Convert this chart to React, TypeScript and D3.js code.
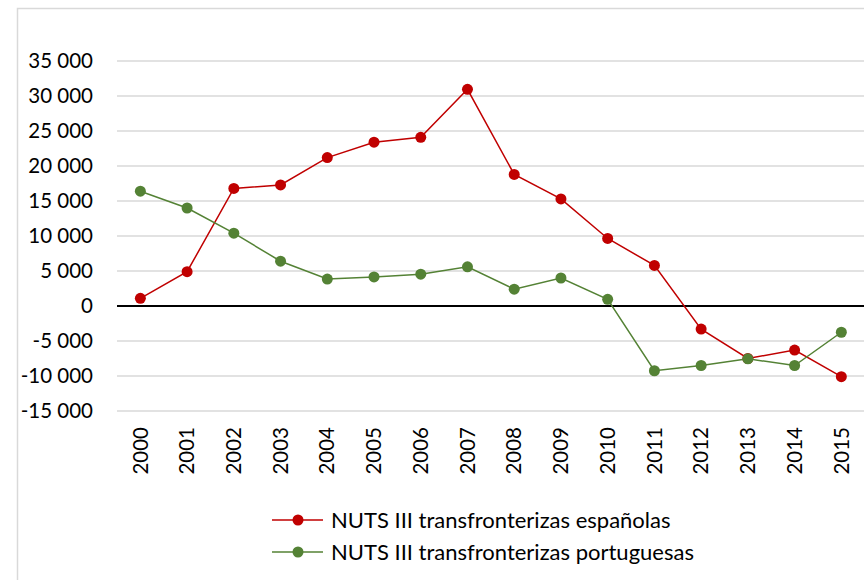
import * as d3 from "d3";
import { useEffect, useRef } from "react";

const years = ["2000", "2001", "2002", "2003", "2004", "2005", "2006", "2007", "2008", "2009", "2010", "2011", "2012", "2013", "2014", "2015"];
const espanolas = [1100, 4900, 16800, 17300, 21200, 23400, 24100, 30950, 18800, 15300, 9650, 5800, -3300, -7500, -6300, -10100];
const portuguesas = [16400, 14000, 10400, 6400, 3850, 4150, 4550, 5600, 2400, 4000, 950, -9250, -8500, -7550, -8500, -3750];
const yTicks = [-15000, -10000, -5000, 0, 5000, 10000, 15000, 20000, 25000, 30000, 35000];
const seriesNames = ["NUTS III transfronterizas españolas", "NUTS III transfronterizas portuguesas"];

const FONT = "Lato, 'Open Sans', sans-serif";

function App() {
  const ref = useRef<SVGSVGElement>(null);

  useEffect(() => {
    const svg = d3.select(ref.current);
    svg.selectAll("*").remove();

    const x = d3.scaleBand().domain(years).range([117, 864.7]).padding(0);
    const y = d3.scaleLinear().domain([-15000, 35000]).range([411, 61]);
    const cx = (d: string) => (x(d) as number) + x.bandwidth() / 2;
    const fmt = (v: number) => (v < 0 ? "-" : "") + d3.format(",")(Math.abs(v)).replace(/,/g, " ");

    // frame
    svg.append("rect").attr("x", 17.5).attr("y", 8.5).attr("width", 900).attr("height", 620)
      .attr("fill", "white").attr("stroke", "#d9d9d9").attr("stroke-width", 1.5);

    // grid
    svg.append("g").selectAll("line").data(yTicks.filter(t => t !== 0)).join("line")
      .attr("x1", 117).attr("x2", 864).attr("y1", d => y(d)).attr("y2", d => y(d))
      .attr("stroke", "#d9d9d9").attr("stroke-width", 1.5);

    svg.append("line").attr("x1", 117).attr("x2", 864).attr("y1", y(0)).attr("y2", y(0))
      .attr("stroke", "black").attr("stroke-width", 2);

    // y labels
    svg.append("g").selectAll("text").data(yTicks).join("text")
      .attr("x", 93).attr("y", d => y(d)).attr("dy", "0.35em").attr("text-anchor", "end")
      .attr("font-family", FONT).attr("font-size", 20.5).attr("fill", "#000")
      .text(d => fmt(d));

    // x labels
    svg.append("g").selectAll("text").data(years).join("text")
      .attr("transform", d => `translate(${cx(d)},427) rotate(-90)`)
      .attr("dy", "0.35em").attr("text-anchor", "end")
      .attr("font-family", FONT).attr("font-size", 20.5).attr("fill", "#000")
      .text(d => d);

    const series = [
      { name: seriesNames[0], values: espanolas, color: "#c00000" },
      { name: seriesNames[1], values: portuguesas, color: "#548235" },
    ];

    const line = d3.line<number>().x((_, i) => cx(years[i])).y(d => y(d));

    series.forEach(s => {
      const g = svg.append("g");
      g.append("path").attr("d", line(s.values)).attr("fill", "none")
        .attr("stroke", s.color).attr("stroke-width", 1.5);
      g.selectAll("circle").data(s.values).join("circle")
        .attr("cx", (_, i) => cx(years[i])).attr("cy", d => y(d)).attr("r", 5.5)
        .attr("fill", s.color);
    });

    // legend
    series.forEach((s, i) => {
      const ly = 520 + i * 32;
      const g = svg.append("g");
      g.append("line").attr("x1", 272).attr("x2", 323).attr("y1", ly).attr("y2", ly)
        .attr("stroke", s.color).attr("stroke-width", 1.5);
      g.append("circle").attr("cx", 298).attr("cy", ly).attr("r", 5.5).attr("fill", s.color);
      g.append("text").attr("x", 331).attr("y", ly).attr("dy", "0.35em")
        .attr("font-family", FONT).attr("font-size", 22).attr("fill", "#000")
        .text(s.name);
    });
  }, []);

  return (
    <svg ref={ref} width={864} height={580}
      style={{ position: "absolute", left: 0, top: 0, background: "white" }} />
  );
}

export default App;
